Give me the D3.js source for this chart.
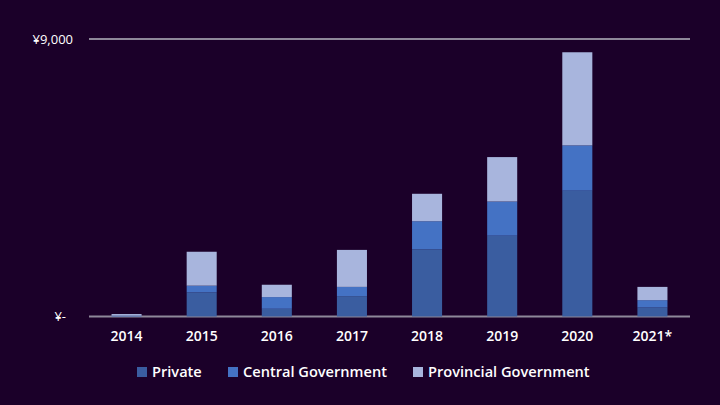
<!DOCTYPE html>
<html>
<head>
<meta charset="utf-8">
<script src="https://cdn.jsdelivr.net/npm/d3@7"></script>
<style>
  body { margin: 0; background: #1b0029; }
  svg { display: block; }
</style>
</head>
<body>
<div id="chart"></div>
<script>
// data
var years = ["2014", "2015", "2016", "2017", "2018", "2019", "2020", "2021*"];
var privateVals = [0, 780, 250, 660, 2180, 2620, 4080, 290];
var centralVals = [30, 220, 380, 300, 910, 1110, 1470, 240];
var provincialVals = [50, 1100, 400, 1200, 890, 1440, 3020, 430];
var seriesNames = ["Private", "Central Government", "Provincial Government"];
var colors = ["#3a5da0", "#4472c4", "#a8b5dd"];
var yTicks = [0, 9000];

var width = 720, height = 405;
var margin = {top: 39, right: 30, bottom: 89, left: 89};

var svg = d3.select("#chart")
    .append("svg")
    .attr("width", width)
    .attr("height", height);

svg.append("rect")
    .attr("width", width)
    .attr("height", height)
    .attr("fill", "#1b0029");

// build table for the stack
var table = years.map(function(y, i) {
    return {year: y, "Private": privateVals[i], "Central Government": centralVals[i], "Provincial Government": provincialVals[i]};
});
var stacked = d3.stack().keys(seriesNames)(table);

var x = d3.scaleBand()
    .domain(years)
    .range([margin.left, width - margin.right])
    .paddingInner(0.6)
    .paddingOuter(0.3);

var y = d3.scaleLinear()
    .domain([0, 9000])
    .range([height - margin.bottom + 0.5, margin.top]);

// gridlines
svg.append("g")
    .selectAll("line")
    .data(yTicks)
    .join("line")
    .attr("x1", margin.left)
    .attr("x2", width - margin.right)
    .attr("y1", d => y(d))
    .attr("y2", d => y(d))
    .attr("stroke", "#8e8899")
    .attr("stroke-width", 2);

// y labels
svg.append("g")
    .selectAll("text")
    .data(yTicks)
    .join("text")
    .attr("x", d => d === 0 ? 66 : 73)
    .attr("y", d => y(d))
    .attr("dy", "0.35em")
    .attr("text-anchor", "end")
    .attr("fill", "#ffffff")
    .style("font-family", "Open Sans, sans-serif")
    .style("font-size", "13px")
    .text(d => d === 0 ? "¥-" : "¥" + d3.format(",")(d));

// bars
svg.append("g")
    .selectAll("g")
    .data(stacked)
    .join("g")
    .attr("fill", (d, i) => colors[i])
    .selectAll("rect")
    .data(d => d)
    .join("rect")
    .attr("x", d => x(d.data.year))
    .attr("width", x.bandwidth())
    .attr("y", d => y(d[1]))
    .attr("height", d => y(d[0]) - y(d[1]));

// x labels
svg.append("g")
    .selectAll("text")
    .data(years)
    .join("text")
    .attr("x", d => x(d) + x.bandwidth() / 2)
    .attr("y", 341)
    .attr("text-anchor", "middle")
    .attr("fill", "#ffffff")
    .style("font-family", "Open Sans, sans-serif")
    .style("font-size", "14px")
    .style("font-weight", "600")
    .text(d => d);

// legend
var legendX = [137, 228, 413];
var legend = svg.append("g")
    .selectAll("g")
    .data(seriesNames)
    .join("g")
    .attr("transform", (d, i) => "translate(" + legendX[i] + ",372)");

legend.append("rect")
    .attr("y", -5)
    .attr("width", 10)
    .attr("height", 10)
    .attr("fill", (d, i) => colors[i]);

legend.append("text")
    .attr("x", 15)
    .attr("dy", "0.35em")
    .attr("fill", "#ffffff")
    .style("font-family", "Open Sans, sans-serif")
    .style("font-size", "14.6px")
    .style("font-weight", "600")
    .text(d => d);
</script>
</body>
</html>
